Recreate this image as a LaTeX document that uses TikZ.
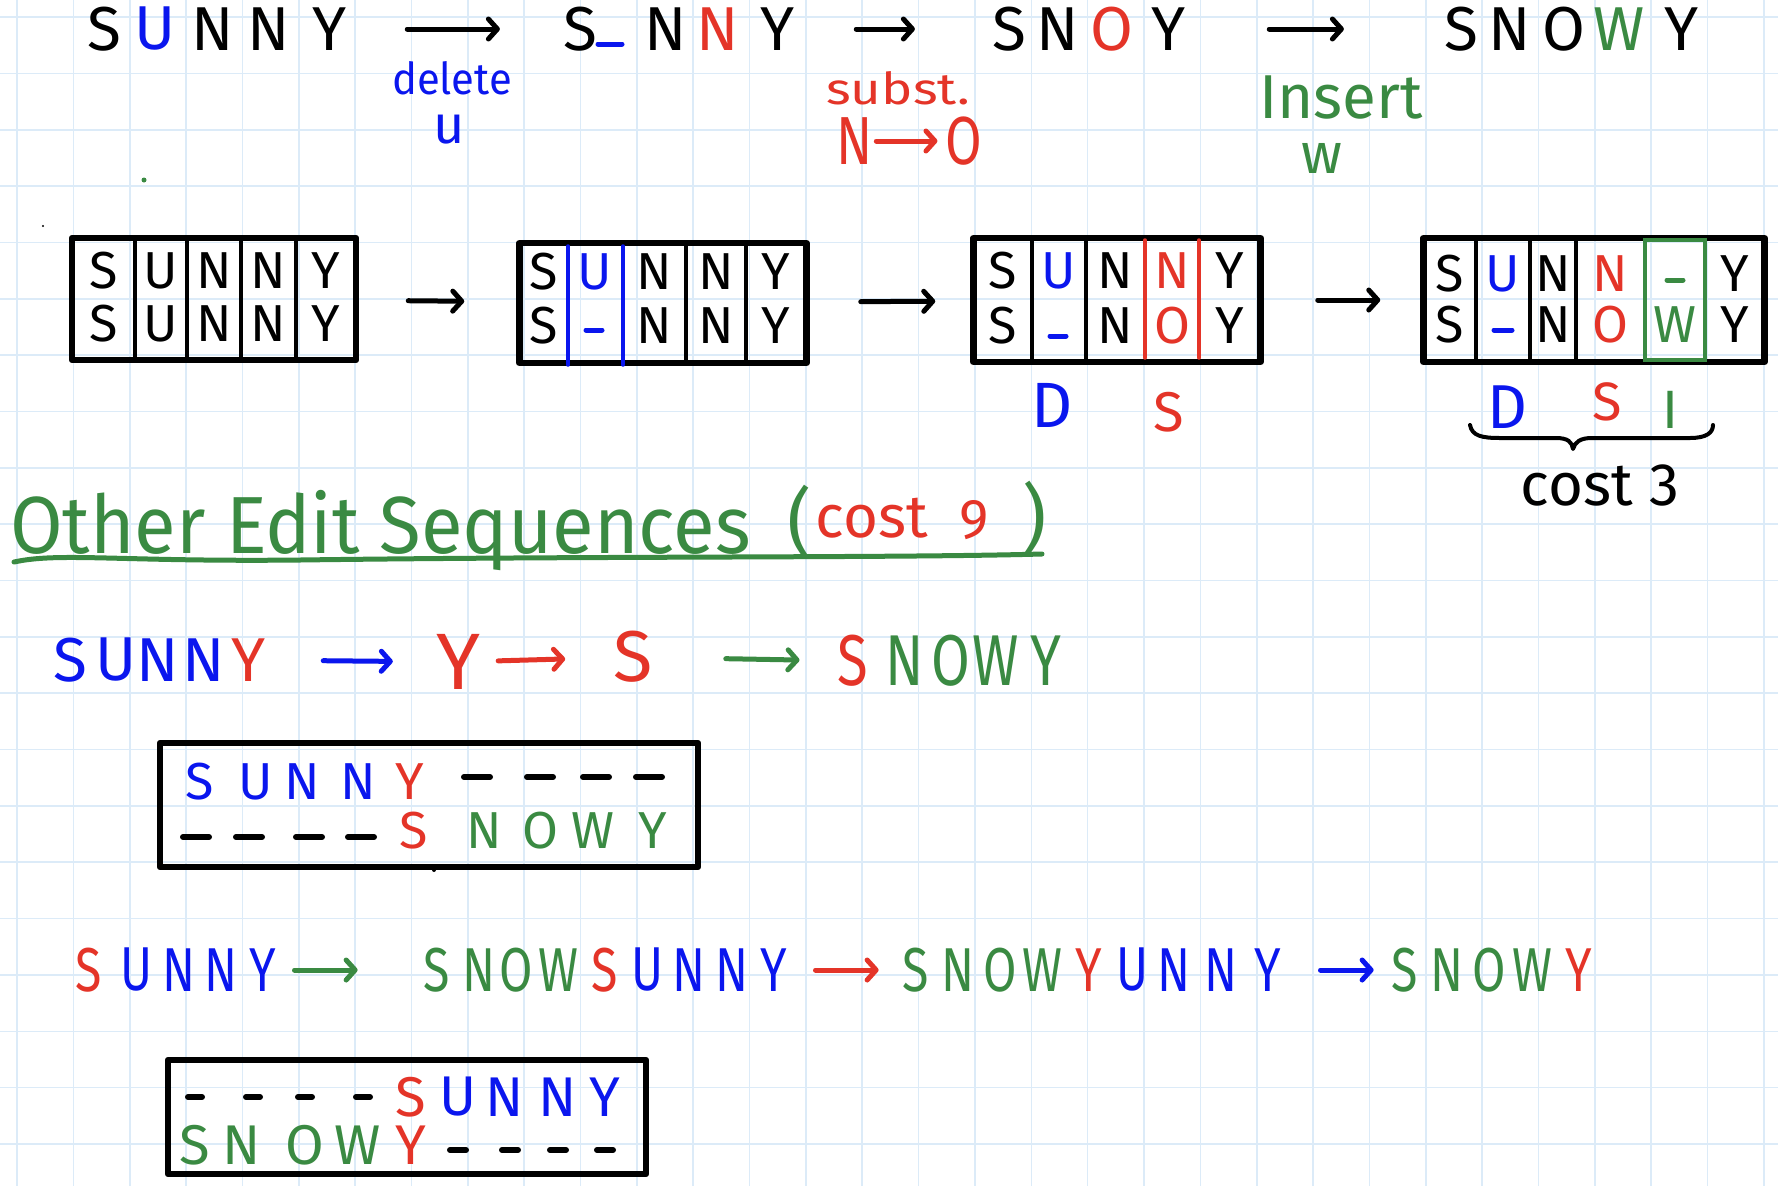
\documentclass[tikz,border=0pt]{standalone}
\usepackage{fontspec}
\setmainfont{Fira Sans}
\usetikzlibrary{arrows.meta}

\definecolor{penblue}{RGB}{10,22,238}
\definecolor{penred}{RGB}{228,52,40}
\definecolor{pengreen}{RGB}{58,138,66}
\definecolor{gridblue}{RGB}{220,235,248}

\newcommand{\narrow}[1]{\scalebox{0.78}[1]{#1}}

\tikzset{
  pen/.style={line width=5pt, line cap=round, line join=round},
  rim/.style={draw, line width=6.5pt, line join=round, inner sep=0pt},
  rule line/.style={line width=3.5pt, line cap=round},
  pen arrow/.style={pen, -{Straight Barb[round, length=9pt, width=20pt]}},
  letter/.style={inner sep=0pt, font=\fontsize{62}{70}\selectfont},
  cell/.style={inner sep=0pt, font=\fontsize{52}{60}\selectfont},
  gridline/.style={gridblue, line width=1.6pt},
}

\begin{document}
\begin{tikzpicture}[x=1pt, y=-1pt]
    % Paper
    \fill[white] (0,0) rectangle (1778,1186);
    \useasboundingbox (0,0) rectangle (1778,1186);
    \foreach \k in {0,...,31}
        \draw[gridline] ({17+56.35*\k},0) -- ({17+56.35*\k},1186);
    \foreach \k in {0,...,20}
        \draw[gridline] (0,{17+56.35*\k}) -- (1778,{17+56.35*\k});
    \fill[pengreen] (144,180) circle (2.5);
    \fill (43,226) circle (1.2);
    \fill (434,870) circle (2);

    % Top row: SUNNY -> S_NNY -> SNOY -> SNOWY
    \foreach \l/\x/\c [count=\i] in {S/104/black, U/155/penblue, N/213/black, N/269/black, Y/330/black}
        \node[letter, text=\c] (ta-\i) at (\x,29) {\l};
    \foreach \l/\x/\c [count=\i] in {S/580/black, N/666/black, N/718/penred, Y/778/black}
        \node[letter, text=\c] (tb-\i) at (\x,29) {\l};
    \draw[pen, penblue] (598,44) -- (622,44);
    \foreach \l/\x/\c [count=\i] in {S/1009/black, N/1058/black, O/1112/penred, Y/1169/black}
        \node[letter, text=\c] (tc-\i) at (\x,29) {\l};
    \foreach \l/\x/\c [count=\i] in {S/1461/black, N/1510/black, O/1564/black, W/1619/pengreen, Y/1682/black}
        \node[letter, text=\c] (td-\i) at (\x,29) {\l};
    \draw[pen arrow, shorten <=60pt, shorten >=63pt] (ta-5) -- (tb-1);
    \draw[pen arrow, shorten <=61pt, shorten >=77pt] (tb-4) -- (tc-1);
    \draw[pen arrow, shorten <=83pt, shorten >=100pt] (tc-4) -- (td-1);

    % Edit labels
    \node[inner sep=0pt, text=penblue, font=\fontsize{44}{50}\selectfont] (del) at (452,78) {\scalebox{0.95}[1]{delete}};
    \node[inner sep=0pt, text=penblue, font=\fontsize{54}{60}\selectfont] (delu) at (449,130) {u};
    \node[inner sep=0pt, text=penred, font=\fontsize{44}{50}\selectfont] (sub) at (898,88) {\scalebox{1.2}[1]{subst.}};
    \node[letter, text=penred, font=\fontsize{68}{76}\selectfont] (subn) at (855,141) {\narrow{N}};
    \node[letter, text=penred, font=\fontsize{68}{76}\selectfont] (subo) at (964,141) {\narrow{O}};
    \draw[pen arrow, penred, shorten <=3pt, shorten >=8pt] (subn) -- (subo);
    \node[inner sep=0pt, text=pengreen, font=\fontsize{62}{70}\selectfont] (ins) at (1341,98) {Insert};
    \node[inner sep=0pt, text=pengreen, font=\fontsize{57}{60}\selectfont] (insw) at (1322,158) {w};

    % Alignment boxes
    \node[rim, minimum width=284pt, minimum height=122pt] (ba) at (214,299) {};
    \node[rim, minimum width=287pt, minimum height=120pt] (bb) at (663,303) {};
    \node[rim, minimum width=287pt, minimum height=124pt] (bc) at (1117,300) {};
    \node[rim, minimum width=341pt, minimum height=124pt] (bd) at (1594,300) {};
    \draw[pen arrow, shorten <=49pt, shorten >=52pt] (ba) -- (bb);
    \draw[pen arrow, shorten <=51pt, shorten >=35pt] (bb) -- (bc);
    \draw[pen arrow, shorten <=54pt, shorten >=40pt] (bc) -- (bd);
    \foreach \x in {135,187,241,296}
        \draw[rule line] (\x,238) -- (\x,360);
    \foreach \x in {568,623}
        \draw[rule line, penblue] (\x,246) -- (\x,365);
    \foreach \x in {686,746}
        \draw[rule line] (\x,243) -- (\x,363);
    \foreach \x in {1032,1086}
        \draw[rule line] (\x,238) -- (\x,362);
    \foreach \x in {1145,1199}
        \draw[rule line, penred] (\x,240) -- (\x,358);
    \foreach \x in {1476,1530,1576}
        \draw[rule line] (\x,238) -- (\x,362);
    \draw[rule line, pengreen] (1645,240) rectangle (1705,360);
    % box contents
    \foreach \l/\x [count=\i] in {S/104, U/161, N/214, N/268, Y/326} {
        \node[cell] (a1-\i) at (\x,271) {\l};
        \node[cell] (a2-\i) at (\x,324) {\l};
    }
    \foreach \l/\x/\c [count=\i] in {S/544/black, U/595/penblue, N/654/black, N/716/black, Y/776/black}
        \node[cell, text=\c] (b1-\i) at (\x,272) {\l};
    \foreach \l/\x [count=\i] in {S/544, N/654, N/716, Y/776}
        \node[cell] (b2-\i) at (\x,326) {\l};
    \draw[pen, penblue] (586,330) -- (602,330);
    \foreach \l/\x/\c [count=\i] in {S/1003/black, U/1059/penblue, N/1115/black, N/1172/penred, Y/1230/black}
        \node[cell, text=\c] (c1-\i) at (\x,271) {\l};
    \foreach \l/\x/\c [count=\i] in {S/1003/black, N/1115/black, O/1172/penred, Y/1230/black}
        \node[cell, text=\c] (c2-\i) at (\x,326) {\l};
    \draw[pen, penblue] (1050,336) -- (1066,336);
    \foreach \l/\x/\c [count=\i] in {S/1450/black, U/1503/penblue, N/1553/black, N/1610/penred, Y/1735/black}
        \node[cell, text=\c] (d1-\i) at (\x,274) {\l};
    \draw[pen, pengreen] (1667,280) -- (1683,280);
    \foreach \l/\x/\c [count=\i] in {S/1450/black, N/1553/black, O/1610/penred, W/1675/pengreen, Y/1735/black}
        \node[cell, text=\c] (d2-\i) at (\x,325) {\l};
    \draw[pen, penblue] (1494,330) -- (1512,330);

    % Edit marks and cost
    \node[letter, text=penblue, font=\fontsize{64}{70}\selectfont] (dc) at (1052,405) {D};
    \node[letter, text=penred, font=\fontsize{56}{60}\selectfont] (sc) at (1169,412) {S};
    \node[letter, text=penblue, font=\fontsize{62}{70}\selectfont] (dd) at (1507,407) {D};
    \node[letter, text=penred, font=\fontsize{54}{60}\selectfont] (sd) at (1607,402) {S};
    \node[letter, text=pengreen, font=\fontsize{54}{60}\selectfont] (id) at (1670,410) {I};
    \draw[pen, line width=4pt] (1470,425) .. controls (1472,436) and (1482,438) .. (1500,438)
        -- (1556,438) .. controls (1568,438) and (1572,442) .. (1573,449)
        .. controls (1575,442) and (1580,438) .. (1592,438) -- (1690,438)
        .. controls (1706,438) and (1713,433) .. (1713,425);
    \node[inner sep=0pt, font=\fontsize{60}{66}\selectfont] (cost) at (1600,485) {cost 3};

    % Heading
    \node[inner sep=0pt, anchor=base west, text=pengreen, font=\fontsize{81}{90}\selectfont] (head) at (10,553) {\scalebox{0.94}[1]{Other Edit Sequences}};
    \node[inner sep=0pt, text=pengreen, font=\fontsize{75}{80}\selectfont] (hl) at (800,522) {(};
    \node[inner sep=0pt, anchor=base, text=penred, font=\fontsize{60}{66}\selectfont] (hc) at (872,537) {cost};
    \node[inner sep=0pt, anchor=base, text=penred, font=\fontsize{56}{60}\selectfont] (h9) at (974,538) {9};
    \node[inner sep=0pt, text=pengreen, font=\fontsize{75}{80}\selectfont] (hr) at (1035,518) {)};
    \draw[pen, pengreen] (14,562) .. controls (60,552) and (120,562) .. (300,560)
        .. controls (600,556) and (900,558) .. (1042,554);

    % First alternative: delete all, insert all
    \foreach \l/\x/\c [count=\i] in {S/70/penblue, U/116/penblue, N/158/penblue, N/204/penblue, Y/249/penred}
        \node[letter, text=\c] (ra-\i) at (\x,660) {\l};
    \node[letter, text=penred, font=\fontsize{80}{90}\selectfont] (rb) at (458,662) {Y};
    \node[letter, text=penred, font=\fontsize{72}{80}\selectfont] (rc) at (633,657) {S};
    \foreach \l/\x/\c [count=\i] in {S/853/penred, N/905/pengreen, O/951/pengreen, W/996/pengreen, Y/1046/pengreen}
        \node[letter, text=\c, font=\fontsize{72}{80}\selectfont] (rd-\i) at (\x,661) {\narrow{\l}};
    \draw[pen arrow, penblue, shorten <=57pt, shorten >=43pt] (ra-5) -- (rb);
    \draw[pen arrow, penred, shorten <=18pt, shorten >=48pt] (rb) -- (rc);
    \draw[pen arrow, pengreen, shorten <=73pt, shorten >=38pt] (rc) -- (rd-1);

    \node[rim, minimum width=538pt, minimum height=124pt] (bx) at (429,805) {};
    \foreach \l/\x/\c [count=\i] in {S/200/penblue, U/256/penblue, N/302/penblue, N/358/penblue, Y/410/penred}
        \node[cell, text=\c] (x1-\i) at (\x,782) {\l};
    \foreach \x in {477,540,596,649}
        \draw[pen, line width=6pt] (\x-13,777) -- (\x+13,777);
    \foreach \x in {196,249,309,361}
        \draw[pen, line width=6pt] (\x-13,837) -- (\x+13,837);
    \foreach \l/\x/\c [count=\i] in {S/414/penred, N/484/pengreen, O/540/pengreen, W/593/pengreen, Y/653/pengreen}
        \node[cell, text=\c] (x2-\i) at (\x,831) {\l};

    % Second alternative: insert all, then substitute and delete
    \foreach \l/\x/\c [count=\i] in {S/89/penred, U/137/penblue, N/179/penblue, N/221/penblue, Y/263/penblue}
        \node[letter, text=\c] (qa-\i) at (\x,970) {\narrow{\l}};
    \foreach \l/\x/\c [count=\i] in {S/437/pengreen, N/479/pengreen, O/516/pengreen, W/558/pengreen, S/605/penred, U/647/penblue, N/689/penblue, N/732/penblue, Y/774/penblue}
        \node[letter, text=\c] (qb-\i) at (\x,970) {\narrow{\l}};
    \foreach \l/\x/\c [count=\i] in {S/916/pengreen, N/958/pengreen, O/1000/pengreen, W/1042/pengreen, Y/1089/penred, U/1132/penblue, N/1174/penblue, N/1221/penblue, Y/1268/penblue}
        \node[letter, text=\c] (qc-\i) at (\x,970) {\narrow{\l}};
    \foreach \l/\x/\c [count=\i] in {S/1405/pengreen, N/1447/pengreen, O/1489/pengreen, W/1532/pengreen, Y/1579/penred}
        \node[letter, text=\c] (qd-\i) at (\x,970) {\narrow{\l}};
    \draw[pen arrow, pengreen, shorten <=18pt, shorten >=66pt] (qa-5) -- (qb-1);
    \draw[pen arrow, penred, shorten <=28pt, shorten >=24pt] (qb-9) -- (qc-1);
    \draw[pen arrow, penblue, shorten <=39pt, shorten >=18pt] (qc-9) -- (qd-1);

    \node[rim, minimum width=478pt, minimum height=114pt] (by) at (407,1117) {};
    \foreach \x in {195,253,305,363}
        \draw[pen, line width=6pt] (\x-7,1097) -- (\x+7,1097);
    \foreach \l/\x/\c [count=\i] in {S/411/penred, U/458/penblue, N/505/penblue, N/558/penblue, Y/605/penblue}
        \node[cell, text=\c, font=\fontsize{56}{60}\selectfont] (y1-\i) at (\x,1097) {\l};
    \foreach \l/\x/\c [count=\i] in {S/195/pengreen, N/242/pengreen, O/305/pengreen, W/358/pengreen, Y/411/penred}
        \node[cell, text=\c, font=\fontsize{56}{60}\selectfont] (y2-\i) at (\x,1145) {\l};
    \foreach \x in {458,510,558,605}
        \draw[pen, line width=6pt] (\x-8,1150) -- (\x+8,1150);
\end{tikzpicture}
\end{document}
